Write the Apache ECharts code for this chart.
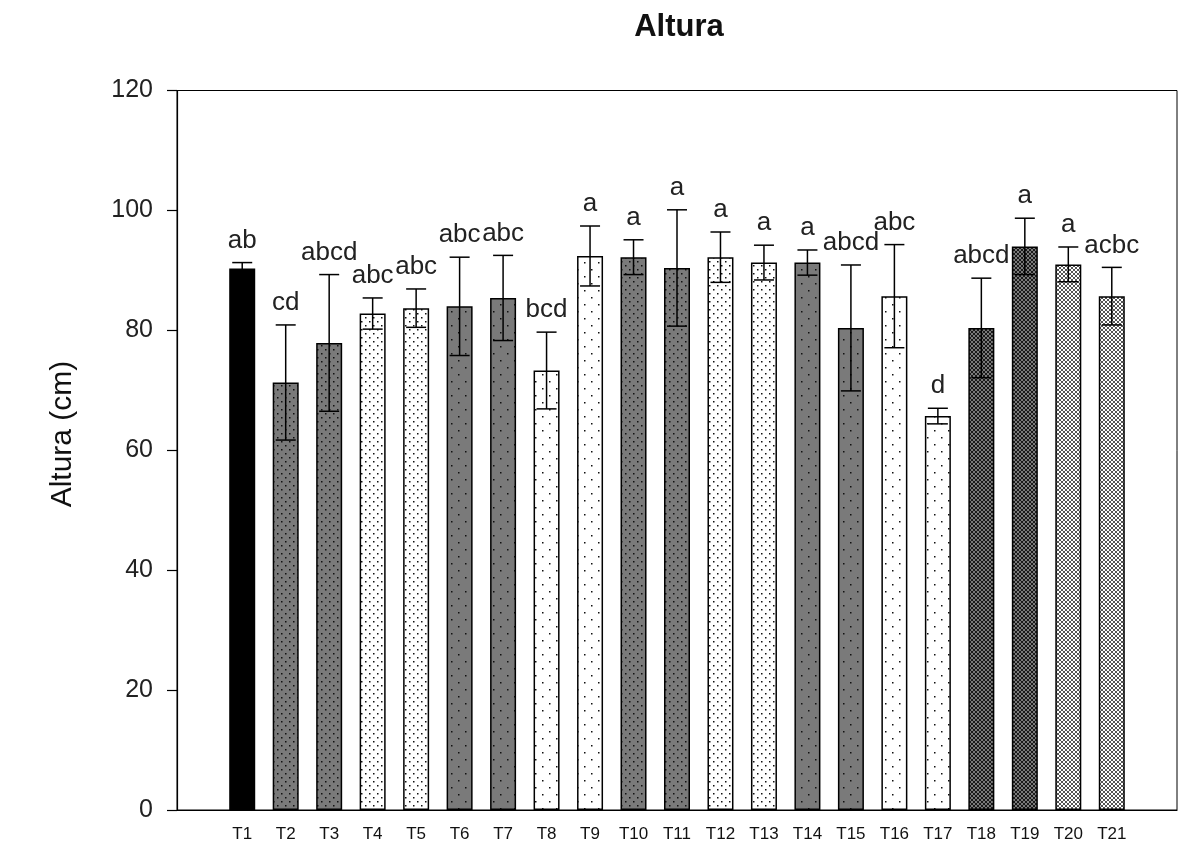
<!DOCTYPE html>
<html>
<head>
<meta charset="utf-8">
<script src="https://cdn.jsdelivr.net/npm/echarts@6/dist/echarts.min.js"></script>
<style>html,body{margin:0;padding:0;background:#fff}#c{width:1178px;height:845px}</style>
</head>
<body>
<div id="c"></div>
<script>
// ---- data ----
const categories = ['T1','T2','T3','T4','T5','T6','T7','T8','T9','T10','T11','T12','T13','T14','T15','T16','T17','T18','T19','T20','T21'];
const means      = [90.3, 71.3, 77.9, 82.8, 83.7, 84.0, 85.4, 73.3, 92.4, 92.2, 90.4, 92.2, 91.3, 91.3, 80.4, 85.7, 65.7, 80.4, 94.0, 91.0, 85.7];
const errors     = [1.0, 9.6, 11.4, 2.6, 3.2, 8.2, 7.1, 6.4, 5.0, 2.9, 9.7, 4.2, 2.9, 2.1, 10.5, 8.6, 1.3, 8.3, 4.7, 2.9, 4.8];
const letters    = ['ab','cd','abcd','abc','abc','abc','abc','bcd','a','a','a','a','a','a','abcd','abc','d','abcd','a','a','acbc'];
const yTicks     = [0, 20, 40, 60, 80, 100, 120];

// ---- styles ----
const fillKinds = ['solid','greyDense','greyDense','whiteDense','whiteDense','greySparse','greySparse','whiteSparse','whiteSparse',
  'greyDense','greyDense','whiteDense','whiteDense','greySparse','greySparse','whiteSparse','whiteSparse','darkHatch','darkHatch','lightHatch','lightHatch'];

function tile(size, bg, dots, dotColor) {
  const c = document.createElement('canvas');
  c.width = size; c.height = size;
  const ctx = c.getContext('2d');
  ctx.fillStyle = bg; ctx.fillRect(0, 0, size, size);
  ctx.fillStyle = dotColor;
  dots.forEach(d => ctx.fillRect(d[0], d[1], d[2] || 1.5, d[3] || 1.5));
  return { image: c, repeat: 'repeat' };
}
function hatch(bg, line) {
  const c = document.createElement('canvas');
  c.width = 4; c.height = 4;
  const ctx = c.getContext('2d');
  ctx.fillStyle = bg; ctx.fillRect(0, 0, 4, 4);
  ctx.fillStyle = line;
  [[0,0],[1,1],[2,2],[3,3],[3,0],[2,1],[1,2],[0,3]].forEach(p => ctx.fillRect(p[0], p[1], 1, 1));
  return { image: c, repeat: 'repeat' };
}
const fills = {
  solid: '#000',
  greyDense: tile(8, '#7a7a7a', [[1,1],[5,5]], '#111'),
  whiteDense: tile(8, '#ffffff', [[1,1],[5,5]], '#111'),
  greySparse: tile(14, '#7a7a7a', [[3,3],[10,10]], '#111'),
  whiteSparse: tile(14, '#ffffff', [[3,3],[10,10]], '#111'),
  darkHatch: hatch('#7a7a7a', '#1a1a1a'),
  lightHatch: hatch('#ffffff', '#555')
};

const xCats = [''].concat(categories).concat(['']);
const barData = ['-'].concat(means.map((v, i) => ({
  value: v,
  itemStyle: { color: fills[fillKinds[i]], borderColor: '#000', borderWidth: 1.5 }
}))).concat(['-']);
const errData = categories.map((c, i) => [c, means[i], errors[i]]);

const FONT = 'Liberation Sans, Arial, sans-serif';
const chart = echarts.init(document.getElementById('c'), null, { renderer: 'canvas' });
chart.setOption({
  animation: false,
  backgroundColor: '#fff',
  title: {
    text: 'Altura', left: 674, top: 7, textAlign: 'center',
    textStyle: { fontFamily: FONT, fontSize: 31, fontWeight: 'bold', color: '#111' }
  },
  graphic: [{
    type: 'text', x: 63, y: 434, rotation: Math.PI / 2,
    style: { text: 'Altura (cm)', align: 'center', verticalAlign: 'middle', font: '30px ' + FONT, fill: '#111' }
  }],
  grid: { left: 177, right: 1, top: 90.5, bottom: 35, show: true, borderColor: '#000', borderWidth: 1, backgroundColor: 'transparent' },
  xAxis: {
    type: 'category', data: xCats, boundaryGap: true,
    axisLine: { lineStyle: { color: '#000', width: 1.2 } },
    axisTick: { alignWithLabel: true, length: 11, interval: (idx, val) => val !== '', lineStyle: { color: '#000', width: 1.2 } },
    axisLabel: { interval: 0, fontFamily: FONT, fontSize: 17, color: '#111', margin: 16 }
  },
  yAxis: {
    type: 'value', min: yTicks[0], max: yTicks[yTicks.length - 1], interval: yTicks[1] - yTicks[0],
    axisLine: { show: true, lineStyle: { color: '#000', width: 1.2 } },
    axisTick: { show: true, length: 10, lineStyle: { color: '#000', width: 1.2 } },
    axisLabel: { fontFamily: FONT, fontSize: 25, color: '#222', margin: 24 },
    splitLine: { show: false }
  },
  series: [
    { type: 'bar', data: barData, barWidth: 26 },
    {
      type: 'custom', data: errData, z: 5,
      encode: { x: 0, y: 1 },
      renderItem: function (params, api) {
        const x = api.value(0), m = api.value(1), e = api.value(2);
        const top = api.coord([x, m + e]);
        const bot = api.coord([x, m - e]);
        const hw = 10;
        const ls = { stroke: '#000', lineWidth: 1.5 };
        return {
          type: 'group',
          children: [
            { type: 'line', shape: { x1: top[0], y1: top[1], x2: bot[0], y2: bot[1] }, style: ls },
            { type: 'line', shape: { x1: top[0] - hw, y1: top[1], x2: top[0] + hw, y2: top[1] }, style: ls },
            { type: 'line', shape: { x1: bot[0] - hw, y1: bot[1], x2: bot[0] + hw, y2: bot[1] }, style: ls },
            { type: 'text', x: top[0], y: top[1] - 9,
              style: { text: letters[params.dataIndex], x: 0, y: 0, align: 'center', verticalAlign: 'bottom',
                       font: '26px ' + FONT, fill: '#222' } }
          ]
        };
      }
    }
  ]
});
</script>
</body>
</html>
